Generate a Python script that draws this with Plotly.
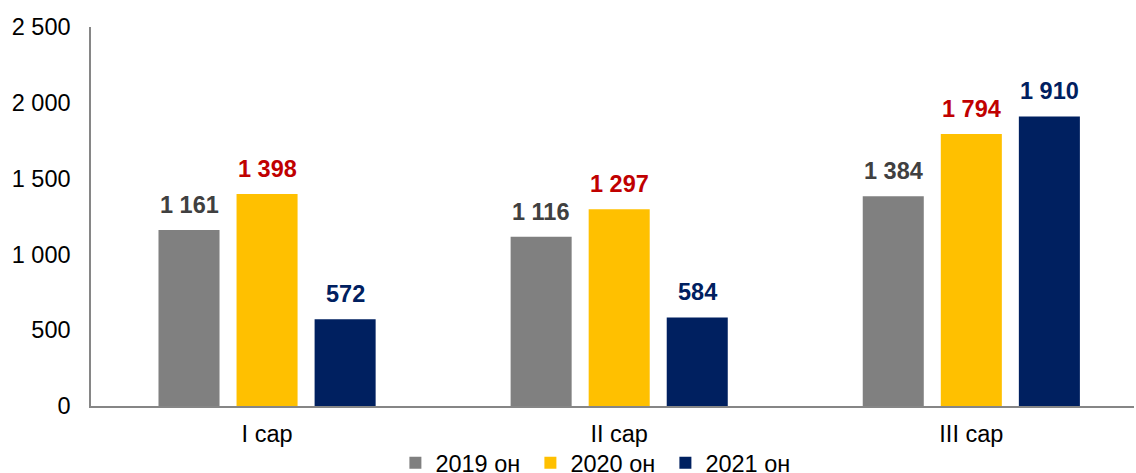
import plotly.graph_objects as go

categories = ["I сар", "II сар", "III сар"]
series_names = ["2019 он", "2020 он", "2021 он"]
values_2019 = [1161, 1116, 1384]
values_2020 = [1398, 1297, 1794]
values_2021 = [572, 584, 1910]
y_ticks = [0, 500, 1000, 1500, 2000, 2500]

bar_colors = ["#808080", "#FFC000", "#002060"]
label_colors = ["#404040", "#C00000", "#002060"]

FONT = "Liberation Sans, Arial, sans-serif"
SLOT_PX = 78  # horizontal distance between bar centres within a group

fig = go.Figure()
all_series = [values_2019, values_2020, values_2021]
for name, vals, bc in zip(series_names, all_series, bar_colors):
    fig.add_trace(go.Bar(
        x=categories, y=vals, name=name,
        marker=dict(color=bc, line=dict(width=0)),
    ))

# data labels
for i, (vals, lc) in enumerate(zip(all_series, label_colors)):
    for cat, v in zip(categories, vals):
        fig.add_annotation(
            x=cat, y=v, xref="x", yref="y",
            text=f"{v:,}".replace(",", " "),
            showarrow=False, xanchor="center", yanchor="bottom",
            xshift=(i - 1) * SLOT_PX, yshift=10,
            font=dict(family=FONT, size=23.5, color=lc, weight="bold"),
        )

fig.update_layout(
    width=1136, height=473,
    margin=dict(l=91, r=2, t=27, b=67, autoexpand=False),
    paper_bgcolor="white", plot_bgcolor="white",
    separators=", ",
    barmode="group", bargap=0.335, bargroupgap=0.218,
    font=dict(family=FONT, size=23.5, color="#000000"),
    showlegend=True,
    legend=dict(orientation="h", x=0.486, xanchor="center", xref="paper",
                y=-0.1504, yanchor="middle", font=dict(size=23.5),
                bgcolor="rgba(0,0,0,0)",
                itemwidth=30, tracegroupgap=0, entrywidth=90,
                entrywidthmode="pixels"),
)
fig.update_yaxes(range=[0, 2500], tickvals=y_ticks, tickformat=",",
                 showgrid=False, zeroline=False, showline=True,
                 linecolor="#868686", linewidth=1.5, ticks="",
                 ticklabelstandoff=14, automargin=False)
fig.update_xaxes(range=[-0.5, 2.462], showgrid=False, showline=True,
                 linecolor="#868686", linewidth=1.5, ticks="",
                 ticklabelstandoff=6, automargin=False)

fig.write_html("out.html", config={"displayModeBar": False},
               post_script="document.body.style.margin='0';document.body.style.overflow='hidden';")
